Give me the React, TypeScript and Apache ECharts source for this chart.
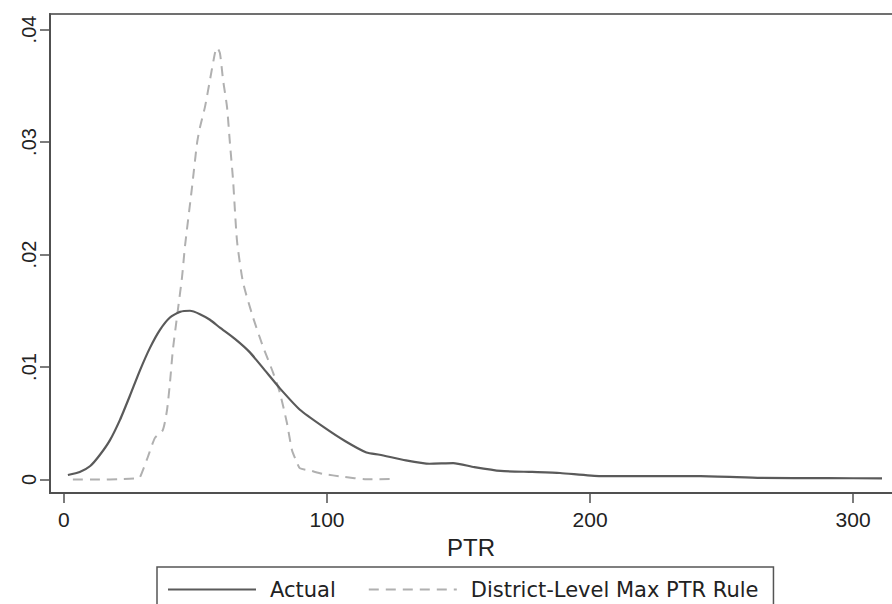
import React, { useEffect, useRef } from "react";
import * as echarts from "echarts";

const actualX = [1.5, 6, 10, 13.7, 17.5, 21.3, 25, 28.9, 32.7, 36.5, 40.3, 44.1, 47.9, 51.7, 55.5, 59.3, 65, 70.7, 76.4, 82.1, 89.7, 98.5, 107, 115, 120, 130, 139, 148, 156, 166, 178, 188.6, 204, 220, 242, 265, 290, 311];
const actualY = [0.0004, 0.00067, 0.0012, 0.0022, 0.0035, 0.0053, 0.0074, 0.0097, 0.0117, 0.0133, 0.0144, 0.0149, 0.015, 0.0147, 0.0142, 0.0135, 0.0125, 0.0113, 0.0097, 0.0081, 0.0062, 0.0047, 0.0034, 0.0024, 0.0022, 0.0017, 0.0014, 0.00145, 0.0011, 0.00076, 0.00067, 0.00058, 0.0003, 0.0003, 0.0003, 0.00015, 0.00012, 0.0001];

const ruleX = [3.4, 13.7, 21, 27.8, 28.9, 31.9, 34.6, 37.6, 39.2, 40.3, 41.4, 43, 44.9, 46, 48.7, 50.6, 51.7, 53.6, 55.5, 57.4, 58.2, 59.3, 60.5, 62, 63.1, 64.3, 65.8, 68.1, 71.9, 75.7, 79.5, 82.1, 84.8, 86.7, 88.6, 89.7, 93.5, 98.5, 106, 115, 124.7];
const ruleY = [0, 0, 0.00003, 0.0001, 0.0002, 0.002, 0.0037, 0.0044, 0.0062, 0.0086, 0.0115, 0.0145, 0.018, 0.0207, 0.026, 0.0299, 0.0313, 0.0331, 0.0355, 0.0379, 0.0384, 0.0379, 0.0355, 0.0331, 0.0299, 0.0266, 0.0212, 0.0175, 0.0144, 0.0118, 0.0095, 0.0077, 0.005, 0.0026, 0.0015, 0.001, 0.0008, 0.0005, 0.00025, 0.00002, 0.00004];

const xTickValues = [0, 100, 200, 300];
const xTickLabels = ["0", "100", "200", "300"];
const yTickValues = [0, 0.01, 0.02, 0.03, 0.04];
const yTickLabels = ["0", ".01", ".02", ".03", ".04"];

const seriesNames = ["Actual", "District-Level Max PTR Rule"];

export default function App() {
  const ref = useRef<HTMLDivElement>(null);
  useEffect(() => {
    document.body.style.margin = "0";
    document.body.style.overflow = "hidden";
    const chart = echarts.init(ref.current!, null, { renderer: "svg" });
    const axisFont = "Liberation Sans, Arial, sans-serif";
    chart.setOption({
      animation: false,
      backgroundColor: "#ffffff",
      grid: {
        left: 50,
        top: 14,
        bottom: 111,
        right: 0,
        show: true,
        borderColor: "#707070",
        borderWidth: 2,
        containLabel: false,
      },
      legend: {
        left: 157,
        top: 567,
        orient: "horizontal",
        borderColor: "#555555",
        borderWidth: 1.5,
        borderRadius: 0,
        padding: [12, 15, 30, 10],
        itemWidth: 88,
        itemHeight: 14,
        itemGap: 32,
        itemStyle: { opacity: 0 },
        textStyle: {
          fontFamily: "DejaVu Sans, sans-serif",
          fontSize: 21,
          color: "#222222",
          padding: [0, 0, 0, 9],
        },
        data: seriesNames,
      },
      xAxis: {
        type: "value",
        min: -5.3,
        max: 322.4,
        name: "PTR",
        nameLocation: "middle",
        nameGap: 42,
        nameTextStyle: {
          fontFamily: axisFont,
          fontSize: 24,
          color: "#222222",
          padding: [0, 20, 0, 0],
        },
        splitLine: { show: false },
        axisLine: { show: true, onZero: false, lineStyle: { color: "#505050", width: 2 } },
        axisTick: {
          show: true,
          length: 10,
          customValues: xTickValues,
          lineStyle: { color: "#505050", width: 1.5 },
        },
        axisLabel: {
          customValues: xTickValues,
          formatter: (v: number) => xTickLabels[xTickValues.indexOf(v)] ?? "",
          fontFamily: axisFont,
          fontSize: 21,
          color: "#222222",
          margin: 16,
        },
      },
      yAxis: {
        type: "value",
        min: -0.0012,
        max: 0.04138,
        splitLine: { show: false },
        axisLine: { show: true, onZero: false, lineStyle: { color: "#505050", width: 2 } },
        axisTick: {
          show: true,
          length: 10,
          customValues: yTickValues,
          lineStyle: { color: "#505050", width: 1.5 },
        },
        axisLabel: {
          customValues: yTickValues,
          formatter: (v: number) => {
            const i = yTickValues.findIndex((t) => Math.abs(t - v) < 1e-9);
            return i >= 0 ? yTickLabels[i] : "";
          },
          rotate: 90,
          fontFamily: axisFont,
          fontSize: 20,
          color: "#222222",
          margin: 11,
        },
      },
      series: [
        {
          name: seriesNames[0],
          type: "line",
          data: actualX.map((x, i) => [x, actualY[i]]),
          symbol: "none",
          smooth: 0.2,
          lineStyle: { color: "#5a5a5a", width: 2.2, type: "solid" },
          itemStyle: { color: "#5a5a5a" },
          z: 3,
        },
        {
          name: seriesNames[1],
          type: "line",
          data: ruleX.map((x, i) => [x, ruleY[i]]),
          symbol: "none",
          smooth: 0.2,
          lineStyle: { color: "#b0b0b0", width: 2, type: [10, 7] },
          itemStyle: { color: "#b0b0b0" },
          z: 2,
        },
      ],
    });
    return () => chart.dispose();
  }, []);
  return <div ref={ref} style={{ width: 912, height: 604 }} />;
}
